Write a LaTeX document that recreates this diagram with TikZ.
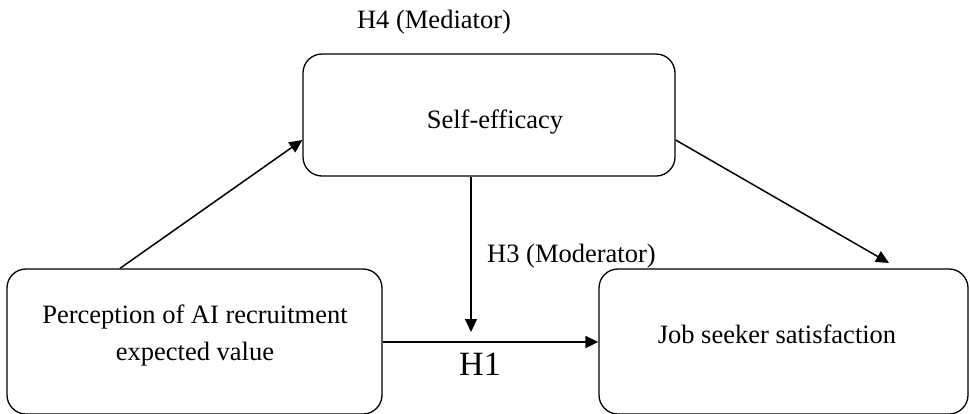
\documentclass[tikz,border=0pt]{standalone}
\usepackage{fontspec}
\setmainfont{Liberation Serif}
\usetikzlibrary{arrows.meta,calc}
\tikzset{
  box/.style={draw=black, line width=1.3pt, rounded corners=19pt, inner sep=0pt},
  txt/.style={inner sep=0pt, anchor=base, font=\fontsize{26.5}{32}\selectfont},
  bigtxt/.style={inner sep=0pt, anchor=base, font=\fontsize{34}{40}\selectfont},
  arr/.style={draw=black, line width=1.5pt, -{Triangle[length=13pt,width=12pt]}},
}
\begin{document}
\begin{tikzpicture}[x=1pt,y=-1pt]
\useasboundingbox (0,0) rectangle (970,413);
% boxes
\node[box, minimum width=372pt, minimum height=122pt] (sbox) at (489,115) {};
\node[box, minimum width=375pt, minimum height=145pt] (lbox) at (194.5,341.5) {};
\node[box, minimum width=369pt, minimum height=145pt] (rbox) at (783.5,341.5) {};
% texts
\node[txt] (h4) at (434,28) {H4 (Mediator)};
\node[txt] (stext) at (495,128) {Self-efficacy};
\node[txt] (ptext1) at (195,323) {Perception of AI recruitment};
\node[txt] (ptext2) at (195,360) {expected value};
\node[txt] (jtext) at (777,343) {Job seeker satisfaction};
\node[txt, anchor=base west] (h3) at (487,262) {H3 (Moderator)};
\node[bigtxt] (h1) at (480,375) {H1};
% free ends
\coordinate (rtip) at (889,263);
\coordinate (vtip) at (471,332);
% connectors
\draw[arr] (lbox.north -| 120,0) -- (sbox.west |- 0,140);
\draw[arr] (sbox.east |- 0,140) -- (rtip);
\draw[arr, line width=1.1pt] (sbox.south -| 471,0) -- (vtip);
\draw[arr, line width=1.8pt] (lbox.east |- 0,342) -- (rbox.west |- 0,342);
\end{tikzpicture}
\end{document}
